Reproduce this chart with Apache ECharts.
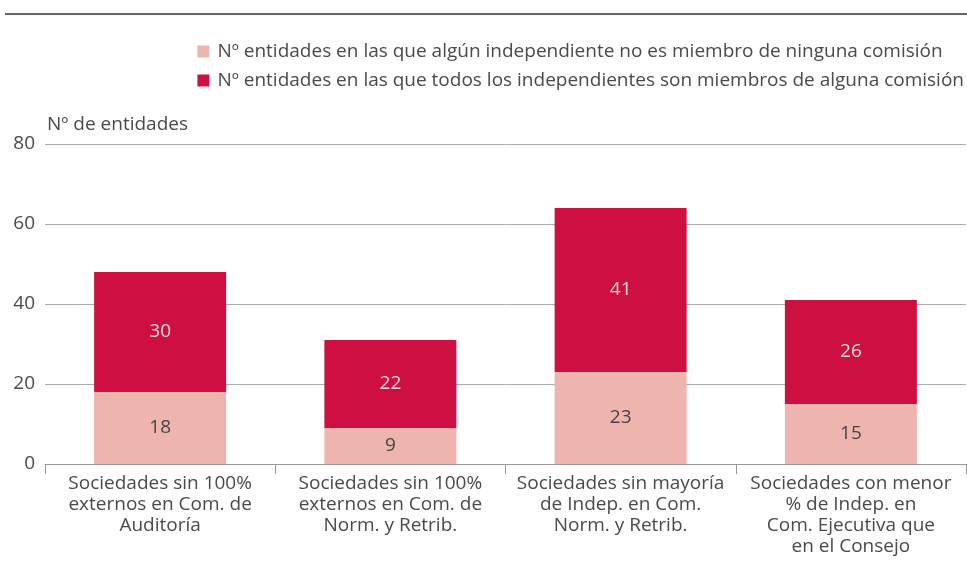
<!doctype html>
<html>
    <head>
        <meta charset="utf-8">
        <title>Nº de entidades</title>
        <style>
            html, body { margin: 0; padding: 0; background: #fff; }
            #main { width: 967px; height: 564px; }
        </style>
    </head>
    <body>
        <div id="main"></div>
        <script src="https://cdn.jsdelivr.net/npm/echarts@6/dist/echarts.min.js"></script>
        <script>
            var chart = echarts.init(document.getElementById('main'));

            var categories = [
                'Sociedades sin 100%\nexternos en Com. de\nAuditoría',
                'Sociedades sin 100%\nexternos en Com. de\nNorm. y Retrib.',
                'Sociedades sin mayoría\nde Indep. en Com.\nNorm. y Retrib.',
                'Sociedades con menor\n% de Indep. en\nCom. Ejecutiva que\nen el Consejo'
            ];
            var seriesNames = [
                'Nº entidades en las que algún independiente no es miembro de ninguna comisión',
                'Nº entidades en las que todos los independientes son miembros de alguna comisión'
            ];
            var someNotMember = [18, 9, 23, 15];
            var allMembers = [30, 22, 41, 26];

            var font = '"Open Sans", "Noto Sans", sans-serif';
            var textColor = '#4a4a4a';
            var fs = 19;

            chart.setOption({
                animation: false,
                textStyle: { fontFamily: font },
                graphic: [{
                    type: 'line',
                    shape: { x1: 5, y1: 14, x2: 967, y2: 14 },
                    style: { stroke: '#333', lineWidth: 1.5 }
                }],
                legend: {
                    orient: 'vertical',
                    right: -2,
                    top: 37,
                    itemWidth: 12,
                    itemHeight: 12,
                    itemGap: 10,
                    icon: 'rect',
                    textStyle: { fontSize: fs, color: textColor, fontFamily: font, padding: [0, 0, 0, 3] },
                    data: seriesNames
                },
                grid: {
                    left: 45,
                    right: 1,
                    top: 144,
                    bottom: 100,
                    containLabel: false
                },
                xAxis: {
                    type: 'category',
                    data: categories,
                    axisLine: { lineStyle: { color: '#999' } },
                    axisTick: { show: true, length: 10, lineStyle: { color: '#999' } },
                    axisLabel: {
                        interval: 0,
                        fontSize: fs,
                        lineHeight: 21,
                        color: textColor,
                        margin: 9
                    }
                },
                yAxis: {
                    type: 'value',
                    min: 0,
                    max: 80,
                    interval: 20,
                    name: 'Nº de entidades',
                    nameLocation: 'end',
                    nameGap: 10,
                    nameTextStyle: { fontSize: fs, color: textColor, align: 'left', padding: [0, 0, 0, 2] },
                    axisLine: { show: false },
                    axisTick: { show: false },
                    axisLabel: { fontSize: fs, color: textColor, margin: 10 },
                    splitLine: { lineStyle: { color: '#aaa' } }
                },
                series: [{
                    name: seriesNames[0],
                    type: 'bar',
                    stack: 'total',
                    barWidth: 132,
                    data: someNotMember,
                    itemStyle: { color: '#eeb5ae' },
                    label: { show: true, position: 'inside', fontSize: fs, color: '#444' }
                }, {
                    name: seriesNames[1],
                    type: 'bar',
                    stack: 'total',
                    barWidth: 132,
                    data: allMembers,
                    itemStyle: { color: '#ce0f41' },
                    label: { show: true, position: 'inside', fontSize: fs, color: '#f6dce2' }
                }]
            });

            window.addEventListener('resize', function () {
                chart.resize();
            });
        </script>
    </body>
</html>
